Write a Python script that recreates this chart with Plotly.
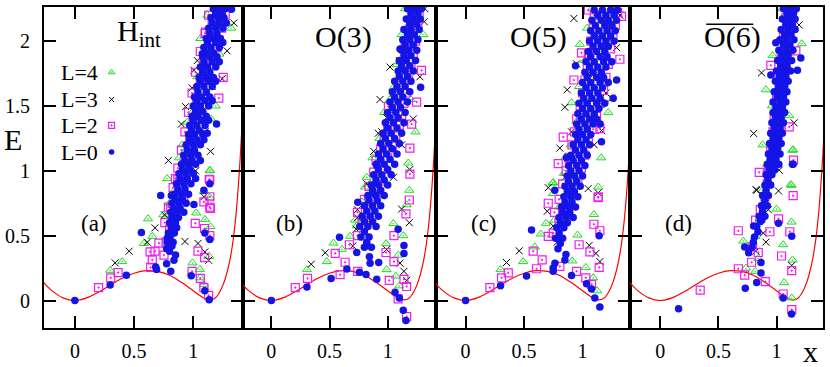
import plotly.graph_objects as go

# red potential curve (same in every panel)
V_X = [-0.27, -0.2, -0.1, 0.0, 0.1, 0.2, 0.3, 0.4, 0.5, 0.6, 0.7, 0.8, 0.9, 1.0,
       1.05, 1.1, 1.14, 1.18, 1.22, 1.26, 1.3, 1.33, 1.36, 1.39, 1.42, 1.45]
V_E = [0.145, 0.08, 0.02, 0.0, 0.02, 0.065, 0.12, 0.172, 0.21, 0.23, 0.225, 0.195, 0.14, 0.075,
       0.042, 0.015, 0.005, 0.015, 0.06, 0.14, 0.27, 0.42, 0.65, 1.0, 1.5, 2.2]

# ---- panel (a) H_int : (x, E) pairs ----
A_L0 = [(0, 0), (0.298, 0.12), (0.435, 0.195), (0.562, 0.525), (0.725, 0.81), (0.683, 0.258),
        (0.69, 0.24), (0.81, 0.225), (0.775, 0.283), (0.837, 0.31), (0.85, 0.35), (0.775, 0.4),
        (0.78, 0.48), (0.983, 0.19), (1.098, 0.075), (1.135, 0.005), (1.14, 0.47), (1.098, 0.52),
        (1.006, 0.74), (1.076, 1.9), (1.197, 1.36), (1.118, 1.29), (0.815, 0.81), (1.14, 0.9),
        (1.09, 0.85), (1.323, 2.245),
        (1.17, 2.25), (1.22, 2.25), (1.27, 2.25), (1.15, 2.18), (1.21, 2.18), (1.26, 2.18),
        (1.13, 2.1), (1.19, 2.1), (1.25, 2.1), (1.11, 2.02), (1.17, 2.02), (1.23, 2.02),
        (1.09, 1.95), (1.15, 1.95), (1.22, 1.95), (1.08, 1.88), (1.14, 1.88), (1.2, 1.88),
        (1.06, 1.8), (1.12, 1.8), (1.19, 1.8), (1.05, 1.72), (1.11, 1.72), (1.17, 1.72),
        (1.03, 1.65), (1.09, 1.65), (1.16, 1.65), (1.01, 1.57), (1.07, 1.57), (1.14, 1.57),
        (1.0, 1.5), (1.06, 1.5), (1.13, 1.5), (0.99, 1.42), (1.04, 1.42), (1.11, 1.42),
        (0.97, 1.35), (1.03, 1.35), (1.1, 1.35), (0.96, 1.28), (1.01, 1.28), (1.08, 1.28),
        (0.94, 1.2), (1.0, 1.2), (1.06, 1.2), (0.92, 1.12), (0.98, 1.12), (1.04, 1.12),
        (0.9, 1.05), (0.96, 1.05), (1.02, 1.05), (0.88, 0.98), (0.94, 0.98), (1.0, 0.98),
        (0.86, 0.9), (0.92, 0.9), (0.98, 0.9), (0.84, 0.82), (0.9, 0.82), (0.96, 0.82),
        (0.82, 0.75), (0.88, 0.75), (0.94, 0.75), (0.81, 0.68), (0.86, 0.68), (0.92, 0.68),
        (0.8, 0.6), (0.85, 0.6), (0.79, 0.52), (0.84, 0.52), (0.78, 0.45), (0.83, 0.45), (0.8, 0.38)]
# extra L=0 points filling the dense band: (E, [x, ...]) rows
A_L0_ROWS = [(2.21, [1.19, 1.245]), (2.14, [1.16, 1.22, 1.28]), (2.06, [1.14, 1.2]),
             (1.99, [1.12, 1.19, 1.25]), (1.91, [1.11, 1.17]), (1.84, [1.09, 1.16, 1.22]),
             (1.76, [1.08, 1.14]), (1.69, [1.06, 1.13, 1.19]), (1.61, [1.04, 1.11]),
             (1.54, [1.03, 1.1, 1.16]), (1.46, [1.02, 1.08]), (1.39, [1.0, 1.07, 1.13]),
             (1.31, [0.985, 1.05]), (1.24, [0.97, 1.03, 1.09]), (1.16, [0.95, 1.01]),
             (1.08, [0.93, 0.99, 1.06]), (1.01, [0.91, 0.97]), (0.94, [0.89, 0.95, 1.02]),
             (0.86, [0.87, 0.93]), (0.78, [0.85, 0.91]), (0.71, [0.835, 0.89]),
             (0.64, [0.82, 0.875]), (0.56, [0.815, 0.86]), (0.49, [0.805]), (0.42, [0.82])]
A_L2 = [(0.2, 0.1), (0.303, 0.175), (0.365, 0.215), (0.64, 0.255), (0.654, 0.313), (0.635, 0.375),
        (0.677, 0.38), (0.71, 0.443), (0.753, 0.35), (0.81, 0.71), (0.87, 0.935), (0.99, 0.225),
        (1.06, 0.17), (1.09, 0.1), (1.13, 0.04), (1.04, 0.38), (1.096, 0.33), (1.14, 0.5),
        (1.096, 0.555), (1.017, 0.595), (1.14, 0.72), (1.09, 0.76), (1.135, 0.935), (1.104, 2.07),
        (1.253, 1.72), (1.216, 1.56), (1.14, 0.93), (1.14, 0.8), (1.146, 0.71), (0.85, 0.94),
        (0.77, 0.45), (0.8, 0.55), (0.76, 0.6), (0.83, 0.66), (0.79, 0.72), (0.85, 0.78),
        (0.92, 0.8), (0.83, 0.87), (0.89, 0.95), (0.96, 0.93), (0.87, 1.02), (0.93, 1.08),
        (1.0, 1.1), (0.9, 1.16), (0.97, 1.24), (1.05, 1.22), (0.93, 1.3), (1.0, 1.38),
        (1.08, 1.4), (0.96, 1.45), (1.03, 1.53), (1.11, 1.55), (0.99, 1.6), (1.06, 1.68),
        (1.14, 1.7), (1.02, 1.76), (1.09, 1.84), (1.18, 1.82), (1.06, 1.92), (1.13, 1.98),
        (1.2, 1.95), (1.1, 2.06), (1.16, 2.13), (1.24, 2.1), (1.13, 2.2), (1.2, 2.24), (1.27, 2.2)]
A_L3 = [(0.34, 0.29), (0.458, 0.38), (0.612, 0.45), (0.677, 0.56), (0.758, 0.66), (0.79, 1.08),
        (0.93, 0.455), (1.04, 0.44), (1.098, 0.375), (1.13, 0.31), (1.09, 0.8), (1.006, 1.775),
        (0.935, 1.495), (0.9, 1.36), (0.99, 1.64), (1.034, 1.85), (1.343, 2.14), (1.286, 1.925),
        (1.244, 1.71), (1.146, 1.15), (0.82, 0.7), (0.86, 0.9), (0.92, 1.05), (0.97, 1.25),
        (1.05, 1.5), (1.12, 1.95), (1.2, 2.2), (1.16, 1.65), (1.1, 1.3), (1.02, 1.0)]
A_L4 = [(0.298, 0.233), (0.4, 0.3), (0.618, 0.63), (0.654, 0.495), (0.584, 0.44), (0.747, 0.66),
        (0.78, 0.94), (0.994, 0.29), (1.056, 0.24), (1.06, 0.175), (1.09, 0.125), (1.135, 0.34),
        (1.1, 0.625), (1.146, 0.57), (1.025, 0.675), (1.09, 0.84), (1.14, 1.005), (1.14, 0.795),
        (1.06, 2.02), (0.907, 1.2), (0.963, 1.0), (1.14, 1.0), (1.32, 2.1), (1.19, 1.5),
        (0.95, 1.375), (1.034, 1.725), (0.8, 0.75), (0.84, 0.85), (0.88, 1.1), (0.93, 1.15),
        (0.99, 1.45), (1.07, 1.75), (1.12, 2.2), (1.25, 2.25), (1.22, 1.9), (1.15, 1.4)]

# ---- panel (b) O(3) ----
B_L0 = [(0, 0), (0.306, 0.105), (0.514, 0.17), (0.649, 0.243), (0.757, 0.218), (0.814, 0.2),
        (0.906, 0.163), (1.063, 0.063), (1.1, 0.02), (1.134, -0.075), (1.157, -0.155),
        (0.586, 0.488), (0.734, 0.37), (0.843, 0.338), (0.849, 0.288), (0.923, 0.293),
        (1.14, 0.363), (1.14, 0.425), (1.09, 0.55), (0.743, 0.758), (1.106, 1.94), (1.283, 1.645),
        (0.906, 1.04), (0.877, 0.825), (1.177, 2.26),
        (1.17, 2.25), (1.23, 2.25), (1.29, 2.25), (1.16, 2.17), (1.22, 2.17), (1.28, 2.17),
        (1.14, 2.09), (1.2, 2.09), (1.27, 2.09), (1.13, 2.01), (1.19, 2.01), (1.26, 2.01),
        (1.12, 1.93), (1.18, 1.93), (1.25, 1.93), (1.1, 1.85), (1.16, 1.85), (1.24, 1.85),
        (1.09, 1.77), (1.15, 1.77), (1.22, 1.77), (1.06, 1.69), (1.13, 1.69), (1.2, 1.69),
        (1.04, 1.61), (1.11, 1.61), (1.19, 1.61), (1.02, 1.53), (1.09, 1.53), (1.17, 1.53),
        (1.0, 1.45), (1.07, 1.45), (1.15, 1.45), (0.98, 1.37), (1.05, 1.37), (1.14, 1.37),
        (0.96, 1.29), (1.03, 1.29), (1.12, 1.29), (0.94, 1.21), (1.01, 1.21), (1.1, 1.21),
        (0.92, 1.13), (0.99, 1.13), (1.08, 1.13), (0.9, 1.05), (0.97, 1.05), (1.06, 1.05),
        (0.88, 0.97), (0.95, 0.97), (1.03, 0.97), (0.86, 0.89), (0.92, 0.89), (1.0, 0.89),
        (0.83, 0.81), (0.9, 0.81), (0.97, 0.81), (0.8, 0.73), (0.87, 0.73), (0.94, 0.73),
        (0.78, 0.65), (0.85, 0.65), (0.92, 0.65), (0.76, 0.57), (0.83, 0.57), (0.9, 0.57),
        (0.77, 0.49), (0.84, 0.49), (0.8, 0.41), (0.86, 0.41)]
B_L0_ROWS = [(2.21, [1.2, 1.26]), (2.13, [1.19, 1.25]), (2.05, [1.17, 1.23]), (1.97, [1.15, 1.22]),
             (1.89, [1.14, 1.2]), (1.81, [1.12, 1.19]), (1.73, [1.1, 1.17]), (1.65, [1.08, 1.15]),
             (1.57, [1.06, 1.13]), (1.49, [1.04, 1.11]), (1.41, [1.02, 1.09]), (1.33, [1.0, 1.08]),
             (1.25, [0.98, 1.06]), (1.17, [0.96, 1.04]), (1.09, [0.94, 1.02]), (1.01, [0.92, 1.0]),
             (0.93, [0.9, 0.97]), (0.85, [0.87, 0.94]), (0.77, [0.84, 0.91]), (0.69, [0.82, 0.89]),
             (0.61, [0.8, 0.87]), (0.53, [0.8]), (0.45, [0.82])]
B_L2 = [(0.206, 0.1), (0.311, 0.17), (0.549, 0.363), (0.591, 0.2), (0.634, 0.295), (0.671, 0.43),
        (0.743, 0.225), (0.809, 0.58), (0.986, 0.37), (1.014, 0.155), (1.054, 0.3), (1.163, 0.108),
        (1.14, 0.163), (1.163, -0.125), (1.09, 0.013), (1.054, 0.5), (1.186, 0.775),
        (1.157, 0.668), (1.006, 1.495), (1.249, 1.53), (1.206, 1.36), (1.191, 1.175),
        (1.191, 0.975), (1.291, 1.775), (1.249, 2.26),
        (0.74, 0.5), (0.78, 0.62), (0.74, 0.68), (0.86, 0.7), (0.8, 0.78), (0.9, 0.82),
        (0.84, 0.88), (0.94, 0.92), (0.88, 0.99), (0.97, 1.01), (0.9, 1.08), (1.0, 1.1),
        (0.94, 1.17), (1.04, 1.19), (0.97, 1.26), (1.07, 1.27), (1.0, 1.34), (1.1, 1.35),
        (1.03, 1.42), (1.12, 1.43), (1.06, 1.5), (1.14, 1.52), (1.08, 1.58), (1.16, 1.6),
        (1.1, 1.66), (1.18, 1.7), (1.12, 1.74), (1.2, 1.8), (1.14, 1.83), (1.22, 1.9),
        (1.15, 1.96), (1.24, 2.0), (1.18, 2.05), (1.26, 2.12), (1.2, 2.14), (1.27, 2.22), (1.22, 2.24)]
B_L3 = [(0.343, 0.28), (0.463, 0.368), (0.7, 0.42), (0.729, 0.55), (0.74, 0.638), (0.74, 0.7),
        (0.826, 0.775), (0.991, 0.393), (1.106, 0.288), (1.14, 0.225), (1.163, 0.155),
        (1.12, 0.705), (1.186, 0.6), (1.02, 1.8), (0.934, 1.55), (0.92, 1.29), (0.991, 1.41),
        (1.314, 2.15), (1.32, 2.25), (1.277, 1.725), (1.22, 1.4), (1.19, 1.01), (0.82, 0.9),
        (0.88, 1.15), (0.95, 1.3), (1.05, 1.6), (1.1, 1.85), (1.18, 2.1), (1.12, 1.2), (1.05, 0.95)]
B_L4 = [(0.306, 0.238), (0.477, 0.3), (0.534, 0.443), (0.606, 0.395), (0.677, 0.495),
        (0.734, 0.575), (0.806, 0.875), (0.986, 0.438), (0.991, 0.238), (1.049, 0.593),
        (1.069, 0.188), (1.1, 0.113), (1.134, 0.5), (1.186, 0.85), (1.163, 0.738), (1.09, 0.35),
        (1.049, 1.64), (1.306, 2.05), (1.177, 1.06), (0.72, 0.62), (0.78, 0.76), (0.82, 0.95),
        (0.87, 1.1), (0.93, 1.25), (0.97, 1.45), (1.02, 1.55), (1.08, 1.82), (1.12, 2.05),
        (1.15, 2.25), (1.24, 1.3), (1.2, 1.55)]

# ---- panel (c) O(5) ----
C_L0 = [(0, 0), (0.299, 0.113), (0.521, 0.188), (0.564, 0.543), (0.749, 0.25), (0.749, 0.225),
        (0.764, 0.288), (0.849, 0.313), (0.858, 0.355), (0.906, 0.193), (1.034, 0.13),
        (1.077, 0.088), (1.105, 0.02), (1.148, -0.05), (1.142, 0.5), (0.94, 1.81), (0.863, 1.1),
        (0.763, 0.85), (1.291, 1.7), (1.262, 1.56), (1.162, 1.225),
        (1.1, 2.24), (1.17, 2.24), (1.24, 2.24), (1.3, 2.24), (1.08, 2.16), (1.16, 2.16),
        (1.22, 2.16), (1.29, 2.16), (1.07, 2.08), (1.14, 2.08), (1.21, 2.08), (1.28, 2.08),
        (1.06, 2.0), (1.13, 2.0), (1.2, 2.0), (1.27, 2.0), (1.05, 1.92), (1.12, 1.92), (1.19, 1.92),
        (1.03, 1.84), (1.1, 1.84), (1.18, 1.84), (1.25, 1.84), (1.02, 1.76), (1.09, 1.76),
        (1.16, 1.76), (1.0, 1.68), (1.07, 1.68), (1.15, 1.68), (1.22, 1.68), (0.99, 1.6),
        (1.06, 1.6), (1.13, 1.6), (0.97, 1.52), (1.04, 1.52), (1.12, 1.52), (1.19, 1.52),
        (0.96, 1.44), (1.03, 1.44), (1.1, 1.44), (0.95, 1.36), (1.02, 1.36), (1.09, 1.36),
        (1.15, 1.36), (0.94, 1.28), (1.0, 1.28), (1.07, 1.28), (0.92, 1.2), (0.99, 1.2),
        (1.06, 1.2), (0.9, 1.12), (0.97, 1.12), (1.04, 1.12), (0.88, 1.04), (0.95, 1.04),
        (1.02, 1.04), (0.87, 0.96), (0.93, 0.96), (1.0, 0.96), (0.85, 0.88), (0.91, 0.88),
        (0.98, 0.88), (0.84, 0.8), (0.9, 0.8), (0.96, 0.8), (0.82, 0.72), (0.88, 0.72),
        (0.94, 0.72), (0.8, 0.64), (0.86, 0.64), (0.92, 0.64), (0.78, 0.56), (0.84, 0.56),
        (0.77, 0.48), (0.83, 0.48), (0.79, 0.4)]
C_L0_ROWS = [(2.2, [1.13, 1.2, 1.27]), (2.12, [1.11, 1.19, 1.25]), (2.04, [1.1, 1.17, 1.24]),
             (1.96, [1.09, 1.16, 1.22]), (1.88, [1.07, 1.15, 1.21]), (1.8, [1.06, 1.13, 1.2]),
             (1.72, [1.04, 1.12, 1.18]), (1.64, [1.03, 1.1, 1.17]), (1.56, [1.01, 1.08, 1.15]),
             (1.48, [1.0, 1.07, 1.14]), (1.4, [0.99, 1.06, 1.12]), (1.32, [0.97, 1.04]),
             (1.24, [0.96, 1.03]), (1.16, [0.94, 1.01]), (1.08, [0.92, 0.99]), (1.0, [0.9, 0.97]),
             (0.92, [0.88, 0.95]), (0.84, [0.87, 0.93]), (0.76, [0.85, 0.91]), (0.68, [0.83, 0.89]),
             (0.6, [0.81, 0.87]), (0.52, [0.8]), (0.44, [0.81])]
C_L2 = [(0.208, 0.1), (0.308, 0.175), (0.365, 0.213), (0.578, 0.38), (0.607, 0.245),
        (0.655, 0.313), (0.707, 0.495), (0.806, 0.263), (0.949, 0.225), (0.971, 0.43),
        (1.028, 0.175), (1.077, 0.125), (1.063, 0.375), (1.142, 0.255), (1.097, 0.588),
        (1.148, 0.538), (1.134, 0.793), (0.792, 1.055), (0.707, 0.75), (0.991, 1.91),
        (0.926, 1.7), (0.835, 1.26), (1.333, 2.19), (1.319, 1.86), (1.148, 1.325), (1.134, 0.8),
        (1.276, 2.26),
        (0.75, 0.52), (0.8, 0.6), (0.76, 0.68), (0.88, 0.7), (0.8, 0.78), (0.92, 0.82),
        (0.83, 0.9), (0.96, 0.92), (0.86, 1.0), (0.99, 1.02), (0.88, 1.1), (1.02, 1.12),
        (0.91, 1.2), (1.05, 1.22), (0.93, 1.3), (1.09, 1.32), (0.95, 1.4), (1.12, 1.42),
        (0.98, 1.5), (1.15, 1.52), (1.0, 1.6), (1.18, 1.62), (1.02, 1.7), (1.2, 1.72),
        (1.04, 1.8), (1.22, 1.82), (1.05, 1.9), (1.24, 1.94), (1.07, 2.0), (1.26, 2.04),
        (1.09, 2.1), (1.28, 2.12), (1.1, 2.2), (1.3, 2.22), (1.05, 2.24)]
C_L3 = [(0.35, 0.293), (0.459, 0.383), (0.707, 0.87), (0.698, 0.688), (0.749, 0.575),
        (0.783, 0.45), (1.057, 0.425), (1.114, 0.363), (1.148, 0.3), (1.134, 0.83),
        (1.048, 0.863), (0.926, 2.175), (0.949, 1.825), (0.869, 1.625), (0.849, 1.49),
        (0.806, 1.175), (0.906, 1.3), (1.319, 2.2), (1.291, 1.95), (1.248, 1.56), (1.162, 1.31),
        (0.85, 0.95), (0.92, 1.1), (0.98, 1.45), (1.05, 1.75), (1.12, 2.05), (1.2, 1.6), (1.1, 1.2)]
C_L4 = [(0.299, 0.238), (0.493, 0.3), (0.593, 0.413), (0.644, 0.513), (0.687, 0.595),
        (0.744, 0.905), (0.749, 0.825), (0.912, 0.305), (0.957, 0.505), (1.028, 0.255),
        (1.097, 0.663), (1.091, 0.175), (1.125, 0.075), (0.977, 1.975), (0.906, 1.525),
        (0.858, 1.11), (0.749, 0.91), (1.248, 2.2), (1.134, 0.875), (0.76, 0.62), (0.8, 0.72),
        (0.84, 0.98), (0.9, 1.2), (0.95, 1.38), (0.97, 1.65), (1.02, 1.85), (1.04, 2.1),
        (1.08, 2.25), (1.22, 1.45), (1.16, 1.1)]

# ---- panel (d) O(6) with bar ----
D_L0 = [(0.157, -0.063), (0.731, 0.095), (0.829, 0.138), (0.866, 0.213), (0.866, 0.293),
        (0.726, 0.413), (0.76, 0.368), (0.803, 0.575), (0.874, 0.62), (1.017, 0.595),
        (1.131, 0.495), (1.143, 1.05), (1.057, 0.02), (1.129, -0.105), (0.994, 1.988),
        (0.951, 1.738), (1.137, 1.05), (1.209, 1.87), (1.18, 1.775), (0.974, 1.29),
        (1.06, 2.25), (1.12, 2.25), (1.17, 2.25), (1.05, 2.17), (1.11, 2.17), (1.16, 2.17),
        (1.04, 2.09), (1.1, 2.09), (1.16, 2.09), (1.03, 2.01), (1.09, 2.01), (1.15, 2.01),
        (1.02, 1.93), (1.08, 1.93), (1.14, 1.93), (1.01, 1.85), (1.07, 1.85), (1.13, 1.85),
        (1.0, 1.77), (1.06, 1.77), (1.12, 1.77), (0.99, 1.69), (1.05, 1.69), (1.1, 1.69),
        (0.98, 1.61), (1.04, 1.61), (1.09, 1.61), (0.97, 1.53), (1.03, 1.53), (1.08, 1.53),
        (0.97, 1.45), (1.02, 1.45), (1.07, 1.45), (0.96, 1.37), (1.01, 1.37), (1.06, 1.37),
        (0.95, 1.29), (1.0, 1.29), (1.05, 1.29), (0.94, 1.21), (0.99, 1.21), (1.04, 1.21),
        (0.93, 1.13), (0.98, 1.13), (1.03, 1.13), (0.92, 1.05), (0.97, 1.05), (1.02, 1.05),
        (0.91, 0.97), (0.96, 0.97), (0.9, 0.89), (0.95, 0.89), (0.88, 0.81), (0.93, 0.81),
        (0.87, 0.73), (0.92, 0.73), (0.85, 0.65), (0.9, 0.65), (0.83, 0.57), (0.81, 0.49),
        (0.79, 0.41)]
D_L0_ROWS = [(2.21, [1.09, 1.145]), (2.13, [1.08, 1.135]), (2.05, [1.07, 1.125]),
             (1.97, [1.06, 1.115]), (1.89, [1.045, 1.1]), (1.81, [1.035, 1.09]),
             (1.73, [1.025, 1.08]), (1.65, [1.015, 1.07]), (1.57, [1.005, 1.06]),
             (1.49, [0.995, 1.05]), (1.41, [0.99, 1.04]), (1.33, [0.98, 1.03]),
             (1.25, [0.97, 1.02]), (1.17, [0.96, 1.01]), (1.09, [0.945, 0.995]),
             (1.01, [0.935, 0.985]), (0.93, [0.925]), (0.85, [0.91]), (0.77, [0.9]),
             (0.69, [0.88]), (0.61, [0.86]), (0.53, [0.84]), (0.45, [0.8])]
D_L2 = [(0.343, 0.08), (0.671, 0.245), (0.726, 0.195), (0.903, 0.145), (0.786, 0.295),
        (0.794, 0.413), (0.843, 0.37), (0.671, 0.538), (0.943, 0.53), (1.017, 0.63),
        (1.114, 0.53), (1.043, 0.343), (1.131, 0.23), (1.143, 0.808), (1.146, 1.083),
        (1.057, 0.05), (1.131, -0.07), (0.851, 0.988), (0.951, 1.813), (1.166, 1.925),
        (1.109, 1.338),
        (0.82, 0.62), (0.86, 0.7), (0.9, 0.8), (0.92, 0.9), (0.93, 1.0), (0.98, 1.08),
        (0.95, 1.15), (1.0, 1.22), (0.97, 1.3), (1.03, 1.35), (0.98, 1.42), (1.04, 1.5),
        (1.0, 1.58), (1.06, 1.65), (1.02, 1.72), (1.08, 1.8), (1.04, 1.88), (1.1, 1.95),
        (1.06, 2.03), (1.13, 2.1), (1.08, 2.18), (1.14, 2.24), (1.1, 2.25)]
D_L3 = [(0.823, 0.38), (0.886, 0.52), (0.909, 0.45), (1.017, 0.845), (0.829, 0.85),
        (1.131, 0.27), (0.871, 1.755), (0.803, 1.288), (1.023, 1.005), (0.823, 0.855),
        (1.151, 1.37), (1.194, 2.125), (0.93, 0.7), (0.97, 1.1), (1.03, 1.6), (1.1, 2.2),
        (1.05, 1.85)]
D_L4 = [(0.714, 0.458), (0.737, 0.25), (0.817, 0.495), (0.843, 0.325), (0.817, 0.225),
        (1.0, 0.705), (1.057, 0.43), (1.066, 0.138), (1.131, 0.02), (1.137, 0.313),
        (1.129, 0.605), (1.123, 0.895), (1.143, 1.163), (0.966, 1.888), (0.909, 1.625),
        (0.88, 1.2), (1.137, 1.158), (1.129, 0.888), (1.217, 1.98), (1.109, 1.425),
        (0.84, 0.6), (0.88, 0.85), (0.92, 1.05), (0.96, 1.5), (1.01, 2.0), (1.05, 2.25)]

PANEL_TITLES = ["H<sub>int</sub>", "O(3)", "O(5)", "O(6)"]
PANEL_TAGS = ["(a)", "(b)", "(c)", "(d)"]
LEGEND_LABELS = ["L=4", "L=3", "L=2", "L=0"]


def with_rows(points, rows):
    return points + [(x, e) for e, xs in rows for x in xs]


panels = [
    dict(L4=A_L4, L3=A_L3, L2=A_L2, L0=with_rows(A_L0, A_L0_ROWS), xr=[-0.261, 1.424], dom=[0.0, 0.256]),
    dict(L4=B_L4, L3=B_L3, L2=B_L2, L0=with_rows(B_L0, B_L0_ROWS), xr=[-0.24, 1.414], dom=[0.256, 0.503]),
    dict(L4=C_L4, L3=C_L3, L2=C_L2, L0=with_rows(C_L0, C_L0_ROWS), xr=[-0.254, 1.404], dom=[0.503, 0.752]),
    dict(L4=D_L4, L3=D_L3, L2=D_L2, L0=with_rows(D_L0, D_L0_ROWS), xr=[-0.263, 1.4], dom=[0.752, 1.0]),
]

GREEN = "#18e018"
MAGENTA = "#f01cf0"
BLUE = "#1414e6"
SERIF = "Liberation Serif, Times New Roman, serif"

styles = {
    "L4": dict(symbol="triangle-up-open-dot", size=8, color=GREEN, line=dict(color=GREEN, width=1)),
    "L3": dict(symbol="x-thin-open", size=7, color="black", line=dict(color="black", width=1)),
    "L2": dict(symbol="square-open-dot", size=8, color=MAGENTA, line=dict(color=MAGENTA, width=1.2)),
    "L0": dict(symbol="circle", size=7.5, color=BLUE, line=dict(width=0)),
}

fig = go.Figure()
annotations = []

for i, p in enumerate(panels):
    sfx = "" if i == 0 else str(i + 1)
    xa, ya = "x" + sfx, "y" + sfx
    fig.add_trace(go.Scatter(x=V_X, y=V_E, mode="lines", line=dict(color="red", width=1.2, shape="spline"),
                             xaxis=xa, yaxis=ya, showlegend=False, hoverinfo="skip"))
    for key in ["L4", "L3", "L2", "L0"]:
        pts = p[key]
        fig.add_trace(go.Scatter(x=[q[0] for q in pts], y=[q[1] for q in pts], mode="markers",
                                 marker=styles[key], xaxis=xa, yaxis=ya, showlegend=False, name=key))

    axis_common = dict(showline=True, linewidth=2, linecolor="black", mirror="ticks",
                       ticks="inside", ticklen=12, tickwidth=2, tickcolor="black",
                       showgrid=False, zeroline=False,
                       tickfont=dict(family=SERIF, size=20, color="black"))
    fig.layout["xaxis" + sfx] = dict(axis_common, domain=p["dom"], range=p["xr"], anchor=ya,
                                     tickvals=[0, 0.5, 1], ticktext=["0", "0.5", "1"],
                                     ticklabelstandoff=4)
    fig.layout["yaxis" + sfx] = dict(axis_common, domain=[0, 1], range=[-0.212, 2.263], anchor=xa,
                                     tickvals=[0, 0.5, 1, 1.5, 2], ticktext=["0", "0.5", "1", "1.5", "2"],
                                     showticklabels=(i == 0), ticklabelstandoff=8)
    title_y = 2.06 if i == 0 else 2.03
    title_x = 0.54 if i == 0 else 0.62
    annotations.append(dict(x=title_x, y=title_y, xref=xa, yref=ya, text=PANEL_TITLES[i], showarrow=False,
                            font=dict(family=SERIF, size=30, color="black")))
    annotations.append(dict(x=0.16, y=0.59, xref=xa, yref=ya, text=PANEL_TAGS[i], showarrow=False,
                            font=dict(family=SERIF, size=23, color="black")))

# legend keys inside panel (a): text on the left, symbol on the right
leg_y = [1.76, 1.55, 1.35, 1.145]
for lab, key, yy in zip(LEGEND_LABELS, ["L4", "L3", "L2", "L0"], leg_y):
    st = dict(styles[key])
    st["size"] = st["size"] - 2
    fig.add_trace(go.Scatter(x=[0.31], y=[yy], mode="markers", marker=st, xaxis="x", yaxis="y",
                             showlegend=False, hoverinfo="skip"))
    annotations.append(dict(x=0.215, y=yy, xref="x", yref="y", text=lab, showarrow=False,
                            xanchor="right", font=dict(family=SERIF, size=22, color="black")))

# axis names, placed relative to the plot area (43..824 x 5..335 px)
annotations.append(dict(x=(12 - 43) / 781, y=(335 - 141) / 330, xref="paper", yref="paper", text="E",
                        xanchor="center", yanchor="middle",
                        showarrow=False, font=dict(family=SERIF, size=30, color="black")))
annotations.append(dict(x=(811 - 43) / 781, y=(335 - 359) / 330, xref="paper", yref="paper", text="x",
                        xanchor="center", yanchor="middle",
                        showarrow=False, font=dict(family=SERIF, size=30, color="black")))

# bar over O(6)
fig.add_shape(type="line", xref="x4", yref="y4", x0=0.395, x1=0.8, y0=2.13, y1=2.13,
              line=dict(color="black", width=1.5))

fig.update_layout(
    width=830, height=367,
    margin=dict(l=43, r=6, t=5, b=32),
    plot_bgcolor="white", paper_bgcolor="white",
    annotations=annotations,
    showlegend=False,
)

fig.write_html("out.html", config={"displayModeBar": False},
               post_script="document.body.style.margin='0';")
